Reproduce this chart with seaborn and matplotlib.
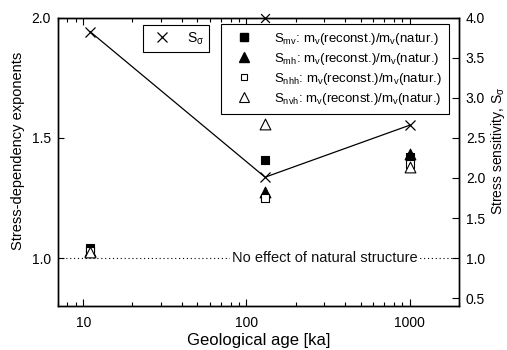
import matplotlib
matplotlib.use("Agg")
import matplotlib.pyplot as plt
import seaborn as sns
import numpy as np
import pandas as pd
from matplotlib.lines import Line2D
from matplotlib.ticker import LogLocator, NullFormatter

sns.set_theme(style="ticks")
plt.rcParams['font.family'] = ['Liberation Sans', 'DejaVu Sans']
plt.rcParams['mathtext.fontset'] = 'custom'
plt.rcParams['mathtext.rm'] = 'Liberation Sans'
plt.rcParams['mathtext.it'] = 'Liberation Sans'
for k in ['text.color', 'axes.labelcolor', 'xtick.color', 'ytick.color', 'axes.edgecolor']:
    plt.rcParams[k] = 'black'

ages = [11, 130, 1000]
s_mv = [1.04, 1.41, 1.42]
s_mh = [1.03, 1.275, 1.435]
s_nhh = [1.03, 1.25, 1.39]
s_nvh = [1.025, 1.56, 1.38]
s_sigma = [3.83, 2.01, 2.66]
s_sigma_extra_age = [130]
s_sigma_extra = [4.0]

fig = plt.figure(figsize=(5.07, 3.5), dpi=100)
ax = fig.add_axes([0.1144, 0.1257, 0.7906, 0.8229])
ax2 = ax.twinx()

ax.set_xscale('log')
ax.set_xlim(7, 2000)
ax.set_ylim(0.8, 2.0)
ax2.set_ylim(0.4, 4.0)

# dotted reference line
ax.axhline(1.0, color='black', linestyle=(0, (1, 2.5)), linewidth=0.8, zorder=1)
ax.text(300, 1.0, "No effect of natural structure", ha='center', va='center',
        fontsize=10.5, color='#111111', zorder=2,
        bbox=dict(facecolor='white', edgecolor='none', pad=1.0))

sns.scatterplot(x=ages, y=s_mv, ax=ax, marker='s', s=30, color='black', edgecolor='black', linewidth=0.8, zorder=5)
sns.scatterplot(x=ages, y=s_mh, ax=ax, marker='^', s=60, color='black', edgecolor='black', linewidth=0.8, zorder=5)
sns.scatterplot(x=ages, y=s_nhh, ax=ax, marker='s', s=30, color='white', edgecolor='black', linewidth=0.8, zorder=6)
sns.scatterplot(x=ages, y=s_nvh, ax=ax, marker='^', s=60, color='white', edgecolor='black', linewidth=0.8, zorder=6)

sns.lineplot(x=ages, y=s_sigma, ax=ax2, color='black', linewidth=0.9, marker='x', markersize=7,
             markeredgewidth=0.9, markeredgecolor='black', legend=False)
sns.scatterplot(x=s_sigma_extra_age, y=s_sigma_extra, ax=ax2, marker='x', s=40, color='black',
                linewidth=0.9, clip_on=False, zorder=1)

ax.set_xlabel("Geological age [ka]", fontsize=12, labelpad=2)
ax.set_ylabel("Stress-dependency exponents", fontsize=10.5)
ax2.set_ylabel(r"Stress sensitivity, S$_\sigma$", fontsize=10)
ax.yaxis.set_label_coords(-0.082, 0.54)
ax2.yaxis.set_label_coords(1.076, 0.54)

ax.set_xticks([10, 100, 1000])
ax.set_xticklabels(["10", "100", "1000"])
ax.xaxis.set_minor_locator(LogLocator(base=10, subs=np.arange(2, 10)))
ax.xaxis.set_minor_formatter(NullFormatter())
ax.set_yticks([1.0, 1.5, 2.0])
ax.set_yticklabels(["1.0", "1.5", "2.0"])
ax2.set_yticks([0.5, 1.0, 1.5, 2.0, 2.5, 3.0, 3.5, 4.0])
ax2.set_yticklabels(["0.5", "1.0", "1.5", "2.0", "2.5", "3.0", "3.5", "4.0"])

ax.tick_params(axis='x', which='major', direction='in', length=5, width=0.8, top=True, labelsize=10, pad=7)
ax.tick_params(axis='x', which='minor', direction='in', length=3, width=0.8, top=True)
ax.tick_params(axis='y', which='major', direction='in', length=4, width=0.8, labelsize=10, pad=5)
ax2.tick_params(axis='y', which='major', direction='in', length=5, width=0.8, labelsize=10, pad=5)

for a in (ax, ax2):
    for sp in a.spines.values():
        sp.set_visible(True)
        sp.set_linewidth(1.0)
        sp.set_color('black')

h1 = [Line2D([], [], linestyle='none', marker='x', color='black', markersize=7, markeredgewidth=0.9)]
leg1 = ax2.legend(h1, [r"S$_\sigma$"], loc='upper left', bbox_to_anchor=(0.213, 0.974),
                  frameon=True, fancybox=False, edgecolor='black', framealpha=1, fontsize=10,
                  handletextpad=0.8, borderpad=0.35, handlelength=2.0, borderaxespad=0)
leg1.get_frame().set_linewidth(0.8)
ax2.add_artist(leg1)

h2 = [Line2D([], [], linestyle='none', marker='s', color='black', markersize=5.5),
      Line2D([], [], linestyle='none', marker='^', color='black', markersize=7.5),
      Line2D([], [], linestyle='none', marker='s', markerfacecolor='white', markeredgecolor='black', markersize=5, markeredgewidth=0.8),
      Line2D([], [], linestyle='none', marker='^', markerfacecolor='white', markeredgecolor='black', markersize=7.5, markeredgewidth=0.8)]
labels2 = [r"S$_{\mathrm{mv}}$: m$_{\mathrm{v}}$(reconst.)/m$_{\mathrm{v}}$(natur.)",
           r"S$_{\mathrm{mh}}$: m$_{\mathrm{v}}$(reconst.)/m$_{\mathrm{v}}$(natur.)",
           r"S$_{\mathrm{nhh}}$: m$_{\mathrm{v}}$(reconst.)/m$_{\mathrm{v}}$(natur.)",
           r"S$_{\mathrm{nvh}}$: m$_{\mathrm{v}}$(reconst.)/m$_{\mathrm{v}}$(natur.)"]
leg2 = ax2.legend(h2, labels2, loc='upper right', bbox_to_anchor=(0.975, 0.98),
                  frameon=True, fancybox=False, edgecolor='black', framealpha=1, fontsize=9.5,
                  handletextpad=1.1, borderpad=0.55, labelspacing=0.3, handlelength=2.3, borderaxespad=0)
leg2.get_frame().set_linewidth(0.8)
leg2.set_zorder(10)

fig.savefig("out.png", dpi=100)
